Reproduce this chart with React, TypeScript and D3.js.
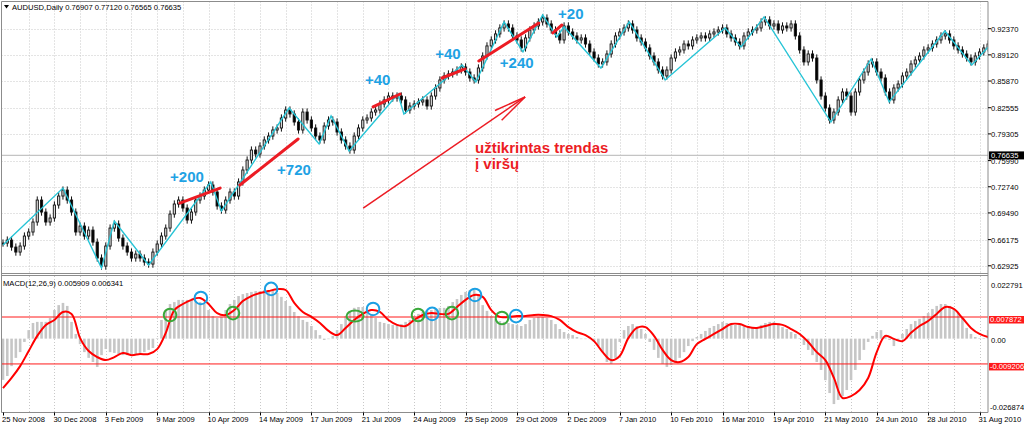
import React from 'react';
import * as d3 from 'd3';

// AUDUSD daily chart (one value per two trading days), ZigZag + MACD(12,26,9)
const dateLabels = [
  '25 Nov 2008', '30 Dec 2008', '3 Feb 2009', '9 Mar 2009', '10 Apr 2009', '14 May 2009',
  '17 Jun 2009', '21 Jul 2009', '24 Aug 2009', '25 Sep 2009', '29 Oct 2009', '2 Dec 2009',
  '7 Jan 2010', '10 Feb 2010', '16 Mar 2010', '19 Apr 2010', '21 May 2010', '24 Jun 2010',
  '28 Jul 2010', '31 Aug 2010',
];
const priceTicks = [0.9237, 0.8912, 0.8587, 0.82555, 0.79305, 0.7599, 0.7274, 0.6949, 0.66175, 0.62925];
const priceTickText = ['0.92370', '0.89120', '0.85870', '0.82555', '0.79305', '0.75990', '0.72740', '0.69490', '0.66175', '0.62925'];
const bidPrice = 0.76635;

const closes = [
  0.6575, 0.6612, 0.6525, 0.6463, 0.6538, 0.6662, 0.6712, 0.6836, 0.7109, 0.6960,
  0.6836, 0.6886, 0.7047, 0.7159, 0.7233, 0.7109, 0.6960, 0.6712, 0.6786, 0.6662,
  0.6736, 0.6587, 0.6389, 0.6289, 0.6538, 0.6761, 0.6811, 0.6637, 0.6538, 0.6463,
  0.6389, 0.6438, 0.6389, 0.6339, 0.6314, 0.6463, 0.6563, 0.6662, 0.6761, 0.6935,
  0.7060, 0.7109, 0.7010, 0.6861, 0.6960, 0.7109, 0.7159, 0.7233, 0.7296, 0.7209,
  0.7035, 0.6985, 0.7109, 0.7209, 0.7159, 0.7333, 0.7482, 0.7606, 0.7730, 0.7681,
  0.7780, 0.7855, 0.7904, 0.7979, 0.8004, 0.8128, 0.8227, 0.8178, 0.8078, 0.7979,
  0.8202, 0.8103, 0.8004, 0.7904, 0.7855, 0.8029, 0.8103, 0.8078, 0.7954, 0.7855,
  0.7780, 0.7730, 0.7904, 0.8004, 0.8103, 0.8128, 0.8202, 0.8227, 0.8302, 0.8352,
  0.8401, 0.8376, 0.8401, 0.8352, 0.8227, 0.8277, 0.8302, 0.8327, 0.8352, 0.8277,
  0.8401, 0.8501, 0.8600, 0.8650, 0.8675, 0.8699, 0.8724, 0.8762, 0.8699, 0.8625,
  0.8600, 0.8749, 0.8898, 0.9023, 0.9097, 0.9172, 0.9246, 0.9296, 0.9246, 0.9147,
  0.9097, 0.8998, 0.9122, 0.9221, 0.9271, 0.9321, 0.9370, 0.9296, 0.9221, 0.9172,
  0.9097, 0.9271, 0.9196, 0.9147, 0.9097, 0.9122, 0.9047, 0.8948, 0.8873, 0.8799,
  0.8824, 0.8923, 0.9047, 0.9147, 0.9196, 0.9246, 0.9296, 0.9221, 0.9122, 0.9072,
  0.8998, 0.8898, 0.8824, 0.8724, 0.8650, 0.8724, 0.8873, 0.8948, 0.8973, 0.9047,
  0.9023, 0.9097, 0.9122, 0.9147, 0.9122, 0.9172, 0.9196, 0.9221, 0.9246, 0.9172,
  0.9122, 0.9072, 0.9023, 0.9147, 0.9196, 0.9221, 0.9246, 0.9321, 0.9346, 0.9271,
  0.9296, 0.9221, 0.9271, 0.9246, 0.9296, 0.9147, 0.8973, 0.8824, 0.8923, 0.8873,
  0.8600, 0.8401, 0.8252, 0.8103, 0.8202, 0.8352, 0.8451, 0.8401, 0.8202, 0.8451,
  0.8600, 0.8699, 0.8799, 0.8824, 0.8699, 0.8625, 0.8451, 0.8352, 0.8501, 0.8550,
  0.8650, 0.8699, 0.8799, 0.8849, 0.8898, 0.8973, 0.8998, 0.9047, 0.9097, 0.9147,
  0.9172, 0.9097, 0.9023, 0.8973, 0.8923, 0.8873, 0.8824, 0.8898, 0.8948, 0.8998,
  0.9047,
];

const zigzagIdx = [0, 14, 23, 26, 34, 48.5, 51, 66.8, 73.8, 76.6, 80.8, 92.2, 93.6, 107.2, 110.4, 117, 121.4, 126, 129.3, 131, 139.6, 146.2, 154.6, 168.6, 172.3, 177.7, 193.3, 202.7, 206.9, 219.9, 226.2, 230];
const zigzagPrice = [0.655, 0.7258, 0.6264, 0.6848, 0.6302, 0.7333, 0.6973, 0.8252, 0.7805, 0.8153, 0.7718, 0.8426, 0.8178, 0.8786, 0.8575, 0.9321, 0.8948, 0.9408, 0.9134, 0.9259, 0.8749, 0.9321, 0.86, 0.9246, 0.901, 0.9383, 0.8078, 0.8861, 0.8327, 0.9209, 0.8786, 0.901];

// red trend segments and their pip gains
const trendStartIdx = [41.3, 55.3, 86.4, 102.5, 111.1, 128.4];
const trendStartPrice = [0.7072, 0.7296, 0.8265, 0.8625, 0.8836, 0.9184];
const trendEndIdx = [50.7, 68.9, 92.7, 107.9, 125.1, 130.5];
const trendEndPrice = [0.7258, 0.7867, 0.8426, 0.8737, 0.9308, 0.9283];
const gainText = ['+200', '+720', '+40', '+40', '+240', '+20'];
const gainIdx = [39.0, 64.0, 84.5, 100.9, 116.0, 129.6];
const gainPrice = [0.7327, 0.7414, 0.8532, 0.8855, 0.8743, 0.9352];

const arrowFrom = [84.1, 0.701];
const arrowTo = [121.9, 0.8389];
const noteLines = ['užtikrintas trendas', 'į viršų'];
const noteAt = [110.2, 0.7693];

const macdHist = [
  -0.0150, -0.0136, -0.0100, -0.0070, -0.0049, -0.0012, 0.0031, 0.0057, 0.0061, 0.0061,
  0.0061, 0.0075, 0.0104, 0.0122, 0.0130, 0.0119, 0.0061, 0.0017, -0.0020, -0.0049,
  -0.0070, -0.0085, -0.0103, -0.0060, -0.0038, -0.0049, -0.0052, -0.0056, -0.0060, -0.0060,
  -0.0060, -0.0056, -0.0052, -0.0049, -0.0041, -0.0034, 0.0002, 0.0068, 0.0104, 0.0126,
  0.0133, 0.0141, 0.0141, 0.0141, 0.0141, 0.0137, 0.0133, 0.0126, 0.0104, 0.0082,
  0.0075, 0.0079, 0.0104, 0.0126, 0.0141, 0.0155, 0.0162, 0.0166, 0.0170, 0.0173,
  0.0173, 0.0177, 0.0177, 0.0177, 0.0166, 0.0152, 0.0137, 0.0119, 0.0097, 0.0082,
  0.0068, 0.0061, 0.0046, 0.0031, 0.0013, -0.0005, -0.0001, 0.0010, 0.0031, 0.0053,
  0.0082, 0.0101, 0.0112, 0.0115, 0.0115, 0.0104, 0.0090, 0.0075, 0.0061, 0.0057,
  0.0053, 0.0050, 0.0050, 0.0053, 0.0061, 0.0068, 0.0082, 0.0090, 0.0097, 0.0101,
  0.0104, 0.0108, 0.0112, 0.0112, 0.0119, 0.0133, 0.0144, 0.0159, 0.0170, 0.0177,
  0.0177, 0.0155, 0.0122, 0.0101, 0.0082, 0.0072, 0.0064, 0.0061, 0.0057, 0.0053,
  0.0050, 0.0046, 0.0053, 0.0068, 0.0075, 0.0079, 0.0079, 0.0075, 0.0068, 0.0053,
  0.0035, 0.0024, 0.0017, 0.0013, 0.0006, -0.0001, -0.0001, -0.0001, -0.0012, -0.0027,
  -0.0049, -0.0085, -0.0092, -0.0070, -0.0012, 0.0031, 0.0046, 0.0053, 0.0046, 0.0035,
  0.0017, -0.0012, -0.0041, -0.0070, -0.0092, -0.0103, -0.0096, -0.0085, -0.0070, -0.0049,
  -0.0027, -0.0009, 0.0006, 0.0017, 0.0028, 0.0039, 0.0046, 0.0053, 0.0061, 0.0057,
  0.0053, 0.0050, 0.0050, 0.0046, 0.0046, 0.0042, 0.0042, 0.0050, 0.0057, 0.0061,
  0.0061, 0.0053, 0.0042, 0.0035, 0.0024, 0.0017, 0.0002, -0.0023, -0.0041, -0.0060,
  -0.0085, -0.0114, -0.0151, -0.0198, -0.0238, -0.0223, -0.0209, -0.0187, -0.0151, -0.0114,
  -0.0078, -0.0041, -0.0012, 0.0010, 0.0024, 0.0031, 0.0013, -0.0005, -0.0027, -0.0005,
  0.0017, 0.0035, 0.0053, 0.0064, 0.0072, 0.0082, 0.0093, 0.0108, 0.0119, 0.0126,
  0.0126, 0.0119, 0.0108, 0.0093, 0.0075, 0.0039, 0.0017, 0.0006, 0.0002, 0.0002,
  0.0031,
];

// signal line, one value every second bar (0, 2, 4 ... 230)
const macdSignal = [
  -0.0180, -0.0143, -0.0100, -0.0045, 0.0010, 0.0050, 0.0068, 0.0097, 0.0090, 0.0002,
  -0.0045, -0.0067, -0.0078, -0.0067, -0.0052, -0.0060, -0.0056, -0.0056, -0.0038, 0.0021,
  0.0104, 0.0126, 0.0141, 0.0148, 0.0126, 0.0093, 0.0086, 0.0104, 0.0137, 0.0155,
  0.0166, 0.0173, 0.0180, 0.0177, 0.0130, 0.0097, 0.0079, 0.0057, 0.0028, 0.0013,
  0.0039, 0.0068, 0.0090, 0.0104, 0.0097, 0.0068, 0.0050, 0.0046, 0.0068, 0.0086,
  0.0093, 0.0090, 0.0090, 0.0115, 0.0141, 0.0159, 0.0152, 0.0104, 0.0079, 0.0079,
  0.0082, 0.0082, 0.0086, 0.0086, 0.0082, 0.0068, 0.0042, 0.0024, 0.0013, -0.0009,
  -0.0049, -0.0078, -0.0063, 0.0002, 0.0039, 0.0042, 0.0010, -0.0041, -0.0078, -0.0085,
  -0.0067, -0.0020, -0.0001, 0.0017, 0.0035, 0.0053, 0.0053, 0.0042, 0.0039, 0.0046,
  0.0053, 0.0050, 0.0035, 0.0017, -0.0012, -0.0049, -0.0078, -0.0143, -0.0216, -0.0209,
  -0.0187, -0.0143, -0.0049, 0.0010, -0.0001, -0.0009, 0.0021, 0.0046, 0.0064, 0.0090,
  0.0115, 0.0108, 0.0075, 0.0039, 0.0017, 0.0006,
];
const macdLevels = [0.007872, -0.009206];
const macdLevelText = ['0.007872', '-0.009206'];
const macdMax = 0.022791;
const macdMin = -0.026874;

const blueMarkIdx = [46.2, 62.6, 86.4, 100.2, 110.2, 119.8];
const blueMarkVal = [0.0148, 0.0181, 0.0108, 0.009, 0.0159, 0.0082];
const greenMarkIdx = [39.0, 53.7, 82.2, 96.9, 104.8, 116.5];
const greenMarkVal = [0.0086, 0.0093, 0.0082, 0.0086, 0.0093, 0.0075];

const FONT = '"Liberation Sans", Arial, sans-serif';
const AXIS_FS = 7.6;
const LEFT = 1.5;
const RIGHT = 988;
const MAIN_TOP = 1.5;
const MAIN_BOTTOM = 273.5;
const SUB_TOP = 276;
const SUB_BOTTOM = 412.5;

const xs = d3.scaleLinear().domain([0, 230]).range([3, 988.1]);
const yp = d3.scaleLinear().domain([0.62925, 0.9237]).range([265.8, 28.7]);
const ym = d3.scaleLinear().domain([macdMin, macdMax]).range([SUB_BOTTOM, SUB_TOP]);

const WICK = 0.0045;
const gridIdx = d3.range(6, 231, 6);
const labelIdx = dateLabels.map((_, k) => k * 12);

export default function App() {
  const zigzag = d3.line<number>().x((_, k) => xs(zigzagIdx[k])).y((p) => yp(p))(zigzagPrice) || '';
  const signal = d3
    .line<number>()
    .x((_, k) => xs(k * 2))
    .y((v) => ym(v))
    .curve(d3.curveCatmullRom.alpha(0.5))(macdSignal) || '';

  const ax0 = xs(arrowFrom[0]);
  const ay0 = yp(arrowFrom[1]);
  const ax1 = xs(arrowTo[0]);
  const ay1 = yp(arrowTo[1]);
  const back = Math.atan2(ay0 - ay1, ax0 - ax1);
  const barbs = [-0.18, 0.18].map((d) => [ax1 + 33 * Math.cos(back + d), ay1 + 33 * Math.sin(back + d)]);

  return (
    <div style={{ position: 'absolute', left: 0, top: 0 }}>
      <svg width={1024} height={427} style={{ display: 'block', background: '#fff' }} fontFamily={FONT}>
        <defs>
          <clipPath id="main-clip">
            <rect x={LEFT} y={MAIN_TOP} width={RIGHT - LEFT} height={MAIN_BOTTOM - MAIN_TOP} />
          </clipPath>
          <clipPath id="sub-clip">
            <rect x={LEFT} y={SUB_TOP} width={RIGHT - LEFT} height={SUB_BOTTOM - SUB_TOP} />
          </clipPath>
          <clipPath id="axis-clip">
            <rect x={RIGHT} y={0} width={1024 - RIGHT} height={427} />
          </clipPath>
        </defs>

        {/* grid */}
        <g stroke="#c8c8c8" strokeWidth={1} strokeDasharray="1,2">
          {gridIdx.map((i) => (
            <line key={'gv' + i} x1={Math.round(xs(i)) + 0.5} x2={Math.round(xs(i)) + 0.5} y1={MAIN_TOP} y2={MAIN_BOTTOM} />
          ))}
          {gridIdx.map((i) => (
            <line key={'gs' + i} x1={Math.round(xs(i)) + 0.5} x2={Math.round(xs(i)) + 0.5} y1={SUB_TOP} y2={SUB_BOTTOM} />
          ))}
          {priceTicks.map((p) => (
            <line key={'gh' + p} x1={LEFT} x2={RIGHT} y1={Math.round(yp(p)) + 0.5} y2={Math.round(yp(p)) + 0.5} />
          ))}
        </g>

        {/* bid line */}
        <line x1={LEFT} x2={RIGHT} y1={yp(bidPrice)} y2={yp(bidPrice)} stroke="#c4c4c4" strokeWidth={1.2} />

        {/* candles */}
        <g clipPath="url(#main-clip)">
          {closes.map((c, i) => {
            const o = i === 0 ? c : closes[i - 1];
            const hi = Math.max(o, c) + WICK;
            const lo = Math.min(o, c) - WICK;
            const x = xs(i);
            const top = yp(Math.max(o, c));
            const h = Math.max(1, yp(Math.min(o, c)) - top);
            const bull = c >= o;
            return (
              <g key={'c' + i}>
                <line x1={x} x2={x} y1={yp(hi)} y2={yp(lo)} stroke="#111" strokeWidth={1} />
                <rect
                  x={x - 1.1}
                  y={top}
                  width={2.2}
                  height={h}
                  fill={bull ? '#d8d8d8' : '#000'}
                  stroke="#111"
                  strokeWidth={0.9}
                />
              </g>
            );
          })}
          <path d={zigzag} fill="none" stroke="#27c4d6" strokeWidth={1.4} />
          {trendStartIdx.map((s, k) => (
            <line
              key={'t' + k}
              x1={xs(s)}
              y1={yp(trendStartPrice[k])}
              x2={xs(trendEndIdx[k])}
              y2={yp(trendEndPrice[k])}
              stroke="#ec1c24"
              strokeWidth={3}
              strokeLinecap="round"
            />
          ))}
        </g>

        {gainText.map((t, k) => (
          <text key={'g' + k} x={xs(gainIdx[k])} y={yp(gainPrice[k])} fill="#1ea2e4" fontSize={15} fontWeight="bold">
            {t}
          </text>
        ))}

        {/* trend arrow and note */}
        <g stroke="#ec1c24" strokeWidth={1.5} fill="none">
          <line x1={ax0} y1={ay0} x2={ax1} y2={ay1} />
          {barbs.map((b, k) => (
            <line key={'b' + k} x1={ax1} y1={ay1} x2={b[0]} y2={b[1]} />
          ))}
        </g>
        {noteLines.map((t, k) => (
          <text key={'n' + k} x={xs(noteAt[0])} y={yp(noteAt[1]) + k * 16} fill="#ec1c24" fontSize={15} fontWeight="bold">
            {t}
          </text>
        ))}

        {/* header */}
        <path d="M4,5 L9,5 L6.5,8.5 Z" fill="#000" />
        <text x={12} y={10} fontSize={AXIS_FS} fill="#000">
          AUDUSD,Daily  0.76907 0.77120 0.76565 0.76635
        </text>

        {/* MACD histogram */}
        <g clipPath="url(#sub-clip)">
          {macdHist.map((v, i) => (
            <rect
              key={'h' + i}
              x={xs(i) - 1.3}
              y={Math.min(ym(0), ym(v))}
              width={2.6}
              height={Math.max(0.5, Math.abs(ym(v) - ym(0)))}
              fill="#c6c6c6"
            />
          ))}
          {macdLevels.map((v) => (
            <line key={'l' + v} x1={LEFT} x2={RIGHT} y1={ym(v)} y2={ym(v)} stroke="#ff1a1a" strokeWidth={1} />
          ))}
          <path d={signal} fill="none" stroke="#ff0000" strokeWidth={2} />
        </g>
        <text x={3} y={286} fontSize={AXIS_FS} fill="#000">
          MACD(12,26,9) 0.005909 0.006341
        </text>

        {/* MACD marks */}
        <g fill="none" strokeWidth={2}>
          {greenMarkIdx.map((i, k) =>
            k === 2 ? (
              <ellipse key={'gm' + k} cx={xs(i)} cy={ym(greenMarkVal[k])} rx={8.5} ry={5.5} stroke="#3aa83a" />
            ) : (
              <circle key={'gm' + k} cx={xs(i)} cy={ym(greenMarkVal[k])} r={6.3} stroke="#3aa83a" />
            ),
          )}
          {blueMarkIdx.map((i, k) => (
            <circle key={'bm' + k} cx={xs(i)} cy={ym(blueMarkVal[k])} r={6.3} stroke="#1a9fe3" />
          ))}
        </g>

        {/* frames */}
        <g stroke="#8c8c8c" strokeWidth={1} fill="none">
          <line x1={LEFT} x2={LEFT} y1={MAIN_TOP} y2={SUB_BOTTOM} />
          <line x1={RIGHT} x2={RIGHT} y1={MAIN_TOP} y2={SUB_BOTTOM} />
          <line x1={LEFT} x2={RIGHT} y1={MAIN_TOP} y2={MAIN_TOP} />
          <line x1={LEFT} x2={RIGHT} y1={MAIN_BOTTOM} y2={MAIN_BOTTOM} />
          <line x1={LEFT} x2={RIGHT} y1={SUB_TOP - 0.5} y2={SUB_TOP - 0.5} />
          <line x1={LEFT} x2={RIGHT} y1={SUB_BOTTOM} y2={SUB_BOTTOM} />
        </g>

        {/* price axis */}
        <g clipPath="url(#axis-clip)">
          {priceTicks.map((p, k) => (
            <g key={'pt' + p}>
              <line x1={RIGHT} x2={RIGHT + 3} y1={yp(p)} y2={yp(p)} stroke="#000" />
              <text x={991} y={yp(p) + 3} fontSize={AXIS_FS} fill="#000">
                {priceTickText[k]}
              </text>
            </g>
          ))}
          <rect x={989} y={yp(bidPrice) - 4} width={35} height={8} fill="#000" />
          <text x={991} y={yp(bidPrice) + 3} fontSize={AXIS_FS} fill="#fff">
            0.76635
          </text>

          {/* MACD axis */}
          <text x={991} y={ym(macdMax) + 12} fontSize={AXIS_FS} fill="#000">0.022791</text>
          <text x={991} y={ym(0) + 4} fontSize={AXIS_FS} fill="#000">0.00</text>
          <text x={990} y={ym(macdMin) - 3} fontSize={AXIS_FS} fill="#000">-0.026874</text>
          {macdLevels.map((v, k) => (
            <g key={'ml' + v}>
              <rect x={989} y={ym(v) - 1} width={35} height={7.5} fill="#ff1a1a" />
              <text x={990} y={ym(v) + 5.2} fontSize={AXIS_FS} fill="#fff">
                {macdLevelText[k]}
              </text>
            </g>
          ))}
        </g>

        {/* time axis */}
        {labelIdx.map((i, k) => (
          <g key={'x' + i}>
            <line x1={Math.round(xs(i)) + 0.5} x2={Math.round(xs(i)) + 0.5} y1={SUB_BOTTOM} y2={SUB_BOTTOM + 3} stroke="#000" />
            <text x={xs(i) - 1} y={422} fontSize={AXIS_FS} fill="#000">
              {dateLabels[k]}
            </text>
          </g>
        ))}
      </svg>
    </div>
  );
}
